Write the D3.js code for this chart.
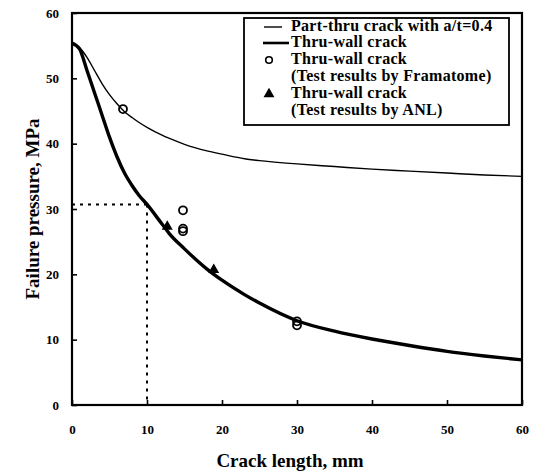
<!DOCTYPE html>
<html>
<head>
<meta charset="utf-8">
<script src="https://cdn.jsdelivr.net/npm/d3@7/dist/d3.min.js"></script>
<style>
  html, body { margin: 0; padding: 0; background: #fff; }
  svg { display: block; }
  text { font-family: "Liberation Serif", "Times New Roman", serif; font-weight: bold; fill: #000; }
</style>
</head>
<body>
<svg id="chart" width="539" height="473"></svg>
<script>
// Crack length (mm) sampled along the analytical curves
const crackLength = [0, 1, 2, 3, 4, 5, 6, 7, 8, 9, 10, 12, 13, 15, 18, 20, 23, 25, 30, 35, 40, 45, 50, 55, 60];
// Part-through crack, a/t = 0.4 (MPa)
const partThru = [55.4, 54.7, 53.2, 51.2, 49.2, 47.5, 46.1, 44.9, 44.0, 43.2, 42.5, 41.3, 40.8, 39.9, 38.9, 38.4, 37.7, 37.4, 36.9, 36.5, 36.1, 35.8, 35.5, 35.2, 35.0];
// Through-wall crack (MPa)
const thruWall = [55.4, 54.5, 51.2, 47.8, 44.4, 41.0, 38.0, 35.5, 33.6, 32.0, 30.7, 27.7, 26.2, 23.9, 20.8, 19.1, 16.9, 15.6, 12.9, 11.3, 10.1, 9.1, 8.2, 7.5, 6.9];
// Test results by Framatome
const framatomeLength = [6.8, 14.8, 14.8, 14.8, 30, 30];
const framatomePressure = [45.3, 29.8, 26.6, 27.0, 12.2, 12.8];
// Test results by ANL
const anlLength = [12.7, 18.9];
const anlPressure = [27.3, 20.7];
// Reference crack length and its failure pressure
const refLength = 10;
const refPressure = 30.7;
// Axis ticks
const xTicks = [0, 10, 20, 30, 40, 50, 60];
const yTicks = [0, 10, 20, 30, 40, 50, 60];
// Legend entries
const legendLabels = ["Part-thru crack with a/t=0.4", "Thru-wall crack", "Thru-wall crack", "(Test results by Framatome)", "Thru-wall crack", "(Test results by ANL)"];

const svg = d3.select("#chart");
const plotLeft = 72, plotRight = 522, plotTop = 13, plotBottom = 405;

const x = d3.scaleLinear().domain([0, 60]).range([plotLeft, plotRight]);
const y = d3.scaleLinear().domain([0, 60]).range([plotBottom, plotTop]);

// Frame
svg.append("rect")
  .attr("x", plotLeft).attr("y", plotTop)
  .attr("width", plotRight - plotLeft).attr("height", plotBottom - plotTop)
  .attr("fill", "none").attr("stroke", "#000").attr("stroke-width", 2.2);

// Bottom axis: ticks point inward
const xAxis = svg.append("g").attr("transform", `translate(0,${plotBottom})`)
  .call(d3.axisBottom(x).tickValues(xTicks).tickSize(-5).tickPadding(20).tickFormat(d3.format("d")));
xAxis.select(".domain").remove();
xAxis.selectAll("line").attr("stroke", "#000").attr("stroke-width", 1.6);
xAxis.selectAll("text").attr("font-size", 13).attr("font-family", "Liberation Serif").attr("font-weight", "bold");

// Left axis: ticks point inward
const yAxis = svg.append("g").attr("transform", `translate(${plotLeft},0)`)
  .call(d3.axisLeft(y).tickValues(yTicks).tickSize(-5).tickPadding(13).tickFormat(d3.format("d")));
yAxis.select(".domain").remove();
yAxis.selectAll("line").attr("stroke", "#000").attr("stroke-width", 1.6);
yAxis.selectAll("text").attr("font-size", 13).attr("font-family", "Liberation Serif").attr("font-weight", "bold");

// Axis titles
svg.append("text")
  .attr("x", 290).attr("y", 467)
  .attr("text-anchor", "middle").attr("font-size", 19)
  .text("Crack length, mm");
svg.append("text")
  .attr("transform", `translate(39,${(plotTop + plotBottom) / 2}) rotate(-90)`)
  .attr("text-anchor", "middle").attr("font-size", 19)
  .text("Failure pressure, MPa");

// Dotted guide at the reference crack length
const guide = svg.append("g").attr("stroke", "#000").attr("stroke-width", 2).attr("stroke-dasharray", "3,5");
guide.append("line").attr("x1", x(0)).attr("x2", x(refLength)).attr("y1", y(refPressure)).attr("y2", y(refPressure));
guide.append("line").attr("x1", x(refLength)).attr("x2", x(refLength)).attr("y1", y(refPressure)).attr("y2", y(0));

// Curves
const line = (vals) => d3.line().x((d, i) => x(crackLength[i])).y(d => y(d)).curve(d3.curveMonotoneX)(vals);
svg.append("path").attr("d", line(partThru)).attr("fill", "none").attr("stroke", "#000").attr("stroke-width", 1.4);
svg.append("path").attr("d", line(thruWall)).attr("fill", "none").attr("stroke", "#000").attr("stroke-width", 3.4);

// Framatome test points
svg.append("g").selectAll("circle").data(framatomeLength).join("circle")
  .attr("cx", d => x(d)).attr("cy", (d, i) => y(framatomePressure[i])).attr("r", 4)
  .attr("fill", "none").attr("stroke", "#000").attr("stroke-width", 1.8);

// ANL test points
const tri = d3.symbol().type(d3.symbolTriangle).size(52);
svg.append("g").selectAll("path").data(anlLength).join("path")
  .attr("transform", (d, i) => `translate(${x(d)},${y(anlPressure[i])})`)
  .attr("d", tri).attr("fill", "#000");

// Legend
const lg = svg.append("g");
lg.append("rect").attr("x", 244).attr("y", 18).attr("width", 265).attr("height", 107)
  .attr("fill", "#fff").attr("stroke", "#000").attr("stroke-width", 1.8);
const rowY = [31, 47, 64, 81, 98, 115];
lg.append("line").attr("x1", 264).attr("x2", 282).attr("y1", rowY[0] - 4).attr("y2", rowY[0] - 4)
  .attr("stroke", "#000").attr("stroke-width", 1.4);
lg.append("line").attr("x1", 263).attr("x2", 289).attr("y1", rowY[1] - 4).attr("y2", rowY[1] - 4)
  .attr("stroke", "#000").attr("stroke-width", 2.6);
lg.append("circle").attr("cx", 269).attr("cy", rowY[2] - 4).attr("r", 3.3)
  .attr("fill", "none").attr("stroke", "#000").attr("stroke-width", 1.6);
lg.append("path").attr("transform", `translate(269,${rowY[4] - 4})`).attr("d", tri).attr("fill", "#000");
lg.selectAll("text.entry").data(legendLabels).join("text").attr("class", "entry")
  .attr("x", 291).attr("y", (d, i) => rowY[i]).attr("font-size", 16).attr("letter-spacing", 0.3)
  .text(d => d);
</script>
</body>
</html>
